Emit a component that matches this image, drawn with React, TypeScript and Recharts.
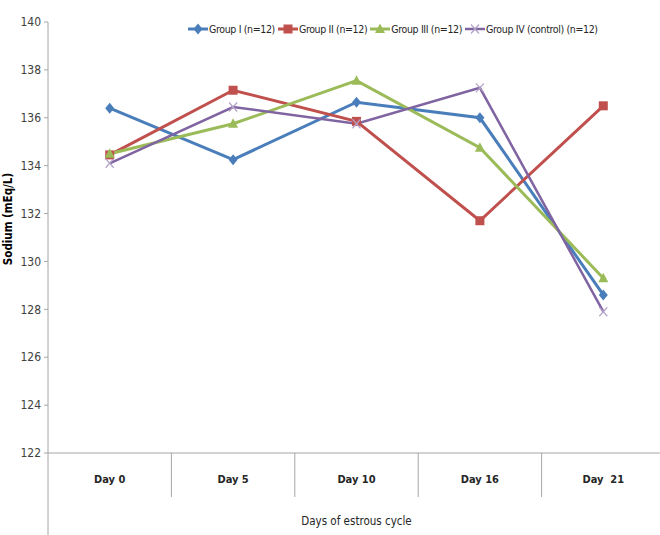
import { CartesianGrid, Legend, Line, LineChart, XAxis, YAxis } from 'recharts';

// sodium levels across the estrous cycle, four groups
const days = ['Day 0', 'Day 5', 'Day 10', 'Day 16', 'Day  21'];
const groupI = [136.4, 134.25, 136.65, 136.0, 128.6];
const groupII = [134.45, 137.15, 135.85, 131.7, 136.5];
const groupIII = [134.5, 135.75, 137.55, 134.75, 129.3];
const groupIV = [134.1, 136.45, 135.75, 137.25, 127.9];
const yTicks = [122, 124, 126, 128, 130, 132, 134, 136, 138, 140];

const SERIES = [
  { key: 'g1', name: 'Group I (n=12)', color: '#4A7EBB', shape: 'diamond', width: 3 },
  { key: 'g2', name: 'Group II (n=12)', color: '#C0504D', shape: 'square', width: 3 },
  { key: 'g3', name: 'Group III (n=12)', color: '#9BBB59', shape: 'triangle', width: 3 },
  { key: 'g4', name: 'Group IV (control) (n=12)', color: '#8064A2', shape: 'cross', width: 2.5 },
];

const data = days.map((day, i) => ({
  day,
  g1: groupI[i],
  g2: groupII[i],
  g3: groupIII[i],
  g4: groupIV[i],
}));

const CHART_W = 665;
const CHART_H = 535;
const Y_AXIS_W = 48;
const M = { top: 22, right: 0, left: 0, bottom: 0 };
const X_AXIS_H = 82;
const PLOT_BOTTOM = CHART_H - X_AXIS_H;
const BAND = (CHART_W - Y_AXIS_W) / days.length;
const FONT = "'Liberation Sans Narrow', 'DejaVu Sans Condensed', Lato, sans-serif";
const AXIS_GRAY = '#A6A6A6';

const Marker = ({ shape, color, cx, cy }) => {
  if (cx == null || cy == null) return null;
  switch (shape) {
    case 'diamond':
      return <path d={`M${cx},${cy - 5.5} L${cx + 4.5},${cy} L${cx},${cy + 5.5} L${cx - 4.5},${cy} Z`} fill={color} />;
    case 'square':
      return <rect x={cx - 4.5} y={cy - 4.5} width={9} height={9} fill={color} />;
    case 'triangle':
      return <path d={`M${cx},${cy - 5.5} L${cx + 5},${cy + 4} L${cx - 5},${cy + 4} Z`} fill={color} />;
    default:
      return (
        <g stroke="#B3A2C7" strokeWidth={1.2}>
          <line x1={cx - 4} y1={cy - 4.5} x2={cx + 4} y2={cy + 4.5} />
          <line x1={cx - 4} y1={cy + 4.5} x2={cx + 4} y2={cy - 4.5} />
        </g>
      );
  }
};

// category labels with divider lines between the columns
const DayTick = (props) => {
  const { x, index, payload } = props;
  const left = x - BAND / 2;
  return (
    <g>
      <line
        x1={left}
        y1={PLOT_BOTTOM}
        x2={left}
        y2={index === 0 ? CHART_H : PLOT_BOTTOM + 44}
        stroke={AXIS_GRAY}
      />
      <text
        x={x}
        y={PLOT_BOTTOM + 30}
        textAnchor="middle"
        fontSize={11}
        fontWeight="bold"
        fill="#262626"
        style={{ whiteSpace: 'pre' }}
      >
        {payload.value}
      </text>
    </g>
  );
};

const renderLegend = () => (
  <div
    style={{
      display: 'flex',
      alignItems: 'center',
      whiteSpace: 'nowrap',
      fontFamily: FONT,
      fontSize: 10.5,
      letterSpacing: -0.35,
      color: '#262626',
    }}
  >
    {SERIES.map((s) => (
      <div key={s.key} style={{ display: 'flex', alignItems: 'center', marginRight: 3 }}>
        <svg width={20} height={12}>
          <line x1={0} y1={6} x2={20} y2={6} stroke={s.color} strokeWidth={s.width} />
          <Marker shape={s.shape} color={s.color} cx={10} cy={6} />
        </svg>
        <span style={{ marginLeft: 1 }}>{s.name}</span>
      </div>
    ))}
  </div>
);

const App = () => (
  <div
    style={{
      position: 'absolute',
      left: 0,
      top: 0,
      width: 660,
      height: CHART_H,
      overflow: 'hidden',
      background: '#fff',
      fontFamily: FONT,
    }}
  >
    <LineChart width={CHART_W} height={CHART_H} data={data} margin={M}>
      <CartesianGrid stroke="none" />
      <XAxis
        dataKey="day"
        scale="band"
        height={X_AXIS_H}
        interval={0}
        tickLine={false}
        axisLine={{ stroke: AXIS_GRAY }}
        tick={<DayTick />}
        label={{
          content: () => (
            <text x={Y_AXIS_W + (CHART_W - Y_AXIS_W) / 2} y={CHART_H - 10} textAnchor="middle" fontSize={11.5} fill="#262626">
              Days of estrous cycle
            </text>
          ),
        }}
      />
      <YAxis
        type="number"
        domain={[122, 140]}
        ticks={yTicks}
        interval={0}
        width={Y_AXIS_W}
        tickSize={4}
        tickMargin={3}
        tickLine={{ stroke: AXIS_GRAY }}
        axisLine={{ stroke: AXIS_GRAY }}
        tick={{ fontSize: 12, fill: '#404040' }}
        label={{
          content: () => (
            <text
              x={12}
              y={219}
              transform="rotate(-90 12 219)"
              textAnchor="middle"
              fontSize={11.5}
              fontWeight="bold"
              fill="#000"
            >
              Sodium (mEq/L)
            </text>
          ),
        }}
      />
      <Legend
        layout="horizontal"
        verticalAlign="middle"
        align="center"
        wrapperStyle={{ top: 23, left: 188, width: 460 }}
        content={renderLegend}
      />
      {SERIES.map((s) => (
        <Line
          key={s.key}
          type="linear"
          dataKey={s.key}
          name={s.name}
          stroke={s.color}
          strokeWidth={s.width}
          isAnimationActive={false}
          activeDot={false}
          dot={(p) => <Marker key={`${s.key}-${p.index}`} shape={s.shape} color={s.color} cx={p.cx} cy={p.cy} />}
        />
      ))}
    </LineChart>
  </div>
);

export default App;
